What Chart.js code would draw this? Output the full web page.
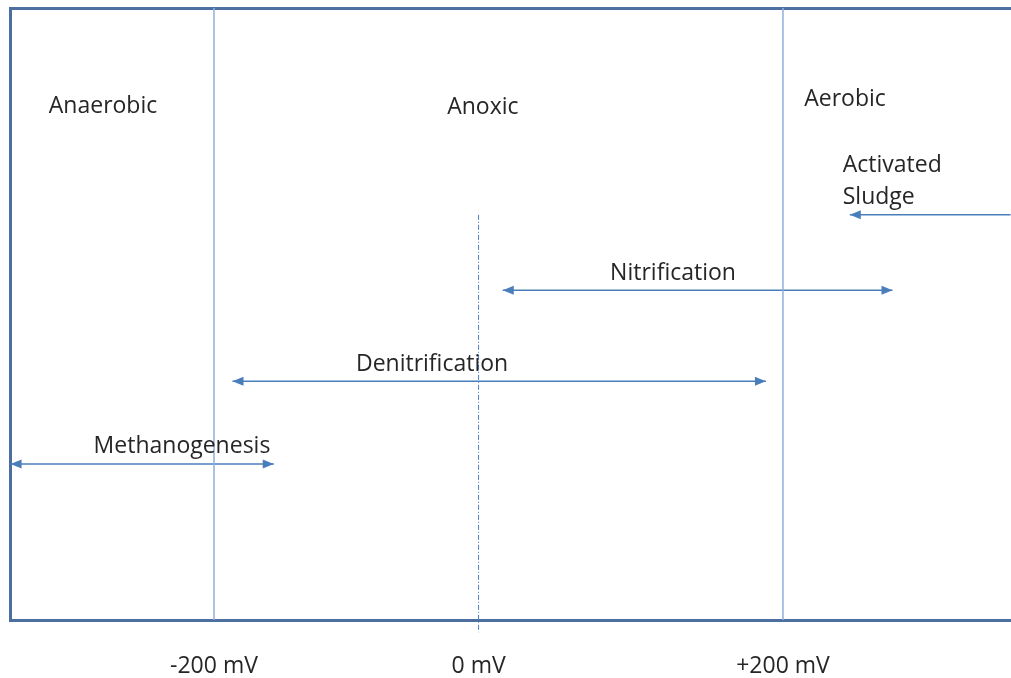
<!DOCTYPE html>
<html>
<head>
<meta charset="utf-8">
<script src="https://cdn.jsdelivr.net/npm/chart.js@4.4.1/dist/chart.umd.min.js"></script>
<style>
  html, body { margin: 0; padding: 0; background: #fff; }
  #wrap { width: 1011px; height: 678px; }
</style>
</head>
<body>
<div id="wrap"><canvas id="redoxChart"></canvas></div>
<script>
// redox scale in mV (schematic)
const zoneBounds = [-200, 200];
const zoneNames = ["Anaerobic", "Anoxic", "Aerobic"];
const tickValues = [-200, -14, 200];
const tickLabels = ["-200 mV", "0 mV", "+200 mV"];
const zeroLine = [-14, 66.2, -2]; // x, from y, to y

const processNames = ["Activated Sludge", "Nitrification", "Denitrification", "Methanogenesis"];
const processFrom = [247, 3, -187, -343];
const processTo = [360, 277, 188, -158];
const processLevel = [66.2, 53.9, 39, 25.5];
const processHeads = ["start", "both", "both", "both"];

const FONT = "'Open Sans', 'DejaVu Sans', sans-serif";
const TEXT = "#262626";
const FRAME = "#4d6f9f";
const ZONE_LINE = "#92aedb";
const ARROW = "#4a7ebb";

// where the words sit, in axis units
const labelSpots = [
  { text: zoneNames[0], x: -278, y: 83.9, align: "center" },
  { text: zoneNames[1], x: -11, y: 83.8, align: "center" },
  { text: zoneNames[2], x: 243.6, y: 85.1, align: "center" },
  { text: "Activated", x: 242, y: 74.3, align: "left" },
  { text: "Sludge", x: 242, y: 69.0, align: "left" },
  { text: processNames[1], x: 122.7, y: 56.7, align: "center" },
  { text: processNames[2], x: -46.7, y: 41.8, align: "center" },
  { text: processNames[3], x: -222.5, y: 28.4, align: "center" }
];

const datasets = [];

zoneBounds.forEach(b => {
  datasets.push({
    data: [{ x: b, y: 0 }, { x: b, y: 100 }],
    borderColor: ZONE_LINE,
    borderWidth: 1.5
  });
});

datasets.push({
  data: [{ x: zeroLine[0], y: zeroLine[1] }, { x: zeroLine[0], y: zeroLine[2] }],
  borderColor: ARROW,
  borderWidth: 1,
  borderDash: [5, 2, 1, 2],
  clip: false
});

processNames.forEach((name, i) => {
  datasets.push({
    label: name,
    data: [{ x: processFrom[i], y: processLevel[i] }, { x: processTo[i], y: processLevel[i] }],
    borderColor: ARROW,
    borderWidth: 1.5,
    heads: processHeads[i],
    clip: false
  });
});

function arrowHead(ctx, x, y, dir) {
  ctx.beginPath();
  ctx.moveTo(x, y);
  ctx.lineTo(x - dir * 11, y - 4.5);
  ctx.lineTo(x - dir * 11, y + 4.5);
  ctx.closePath();
  ctx.fill();
}

const arrowPlugin = {
  id: "arrows",
  afterDatasetsDraw(chart) {
    const ctx = chart.ctx;
    ctx.save();
    ctx.fillStyle = ARROW;
    chart.data.datasets.forEach((ds, i) => {
      if (!ds.heads) return;
      const pts = chart.getDatasetMeta(i).data;
      const a = pts[0], b = pts[1];
      if (ds.heads === "start" || ds.heads === "both") arrowHead(ctx, a.x, a.y, -1);
      if (ds.heads === "end" || ds.heads === "both") arrowHead(ctx, b.x, b.y, 1);
    });
    ctx.restore();
  }
};

const labelPlugin = {
  id: "zoneLabels",
  afterDraw(chart) {
    const ctx = chart.ctx;
    const xs = chart.scales.x, ys = chart.scales.y;
    ctx.save();
    ctx.font = "23px " + FONT;
    ctx.fillStyle = TEXT;
    ctx.textBaseline = "middle";
    labelSpots.forEach(l => {
      ctx.textAlign = l.align;
      ctx.fillText(l.text, xs.getPixelForValue(l.x), ys.getPixelForValue(l.y));
    });
    ctx.restore();
  }
};

new Chart(document.getElementById("redoxChart"), {
  type: "scatter",
  data: { datasets },
  plugins: [arrowPlugin, labelPlugin],
  options: {
    responsive: true,
    maintainAspectRatio: false,
    animation: false,
    showLine: true,
    elements: { point: { radius: 0, hoverRadius: 0 } },
    layout: { padding: { left: 10, top: 8, right: 0, bottom: 0 } },
    plugins: { legend: { display: false }, tooltip: { enabled: false } },
    scales: {
      x: {
        type: "linear",
        min: -343.4,
        max: 360.3,
        afterBuildTicks: axis => { axis.ticks = tickValues.map(v => ({ value: v })); },
        afterFit: axis => { axis.height = 58; },
        ticks: {
          autoSkip: false,
          maxRotation: 0,
          padding: 33,
          font: { family: FONT, size: 23 },
          color: TEXT,
          callback: (v, i) => tickLabels[i]
        },
        grid: { display: false, drawTicks: false },
        border: { display: true, color: FRAME, width: 3 }
      },
      x2: {
        type: "linear",
        position: "top",
        display: true,
        ticks: { display: false },
        grid: { display: false, drawTicks: false },
        border: { display: true, color: FRAME, width: 3 }
      },
      y: {
        min: 0,
        max: 100,
        ticks: { display: false },
        grid: { display: false, drawTicks: false },
        border: { display: true, color: FRAME, width: 3 }
      }
    }
  }
});
</script>
</body>
</html>
